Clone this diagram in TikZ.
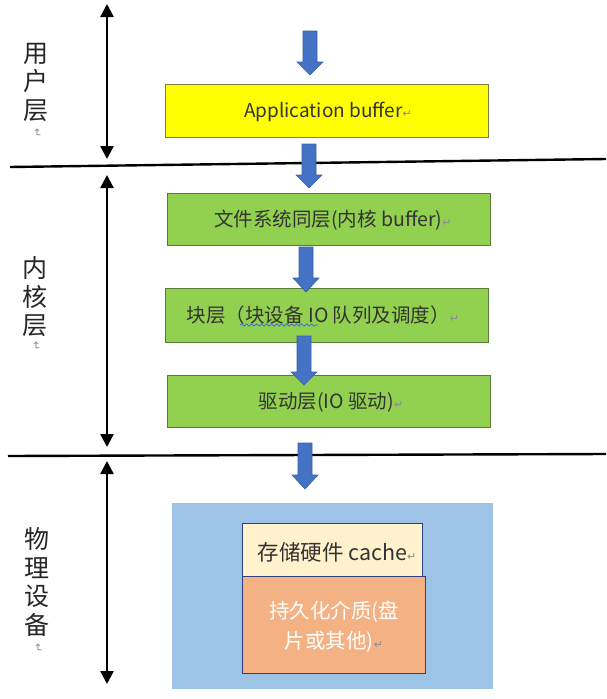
\documentclass[tikz,border=0pt]{standalone}
\usepackage{fontspec}
\setmainfont{Noto Sans CJK SC}
\newfontfamily\markfont{DejaVu Sans}
\usetikzlibrary{arrows.meta,decorations.pathmorphing}
\definecolor{appyellow}{HTML}{FFFF00}
\definecolor{appborder}{HTML}{7F7F3F}
\definecolor{kgreen}{HTML}{92D050}
\definecolor{kborder}{HTML}{5A7A3A}
\definecolor{devblue}{HTML}{9DC3E6}
\definecolor{cream}{HTML}{FFF2CC}
\definecolor{orangefill}{HTML}{F4B183}
\definecolor{darkblue}{HTML}{2F3F7F}
\definecolor{arrowblue}{HTML}{4472C4}
\definecolor{arrowborder}{HTML}{3A5FA8}
\definecolor{txt}{HTML}{333333}
\definecolor{markgray}{HTML}{8C8C8C}
\definecolor{wavy}{HTML}{3F6FD0}
\newcommand\pmark{{\markfont\fontsize{11}{11}\selectfont\textcolor{markgray}{↵}}}
\newcommand\blockarrow[4]{%
  \filldraw[arrowstyle] (#1-7,#2) -- (#1+7,#2) -- (#1+7,#3) -- (#1+13,#3) -- (#1,#4) -- (#1-13,#3) -- (#1-7,#3) -- cycle;}
\tikzset{
  layerbox/.style={draw=kborder, line width=1pt, fill=kgreen, minimum width=323pt, minimum height=52pt, inner sep=0pt},
  boxtext/.style={text=txt, inner sep=0pt, font=\fontsize{19.5}{22}\selectfont},
  arrowstyle/.style={fill=arrowblue, draw=arrowborder, line width=0.6pt},
  dbl/.style={line width=2.4pt, {Triangle[width=13pt,length=13pt]}-{Triangle[width=13pt,length=13pt]}},
  sep/.style={line width=2.4pt, black},
  vlabel/.style={align=center, text=black!85, font=\fontsize{25}{28.5}\selectfont, inner sep=0pt},
  vmark/.style={rotate=-90, inner sep=0pt},
}
\begin{document}
\begin{tikzpicture}[x=1pt,y=-1pt]
\useasboundingbox (0,0) rectangle (606,699);
% separators
\coordinate (s1l) at (10,167); \coordinate (s1r) at (606,159);
\coordinate (s2l) at (8,456); \coordinate (s2r) at (606,454);
\draw[sep] (s1l) -- (s1r);
\draw[sep] (s2l) -- (s2r);
% double arrows
\coordinate (a1t) at (107,4);   \coordinate (a1b) at (107,159);
\coordinate (a2t) at (107,175); \coordinate (a2b) at (107,447);
\coordinate (a3t) at (107,461); \coordinate (a3b) at (107,684);
\draw[dbl] (a1t) -- (a1b);
\draw[dbl] (a2t) -- (a2b);
\draw[dbl] (a3t) -- (a3b);
% vertical labels
\node[vlabel] (l1) at (36,82) {用\\户\\层};
\node[vmark] (m1) at (37,133) {\pmark};
\node[vlabel] (l2) at (35,297) {内\\核\\层};
\node[vmark] (m2) at (36,346) {\pmark};
\node[vlabel] (l3) at (37,582) {物\\理\\设\\备};
\node[vmark] (m3) at (38,648) {\pmark};
% boxes
\node[layerbox, draw=appborder, fill=appyellow, minimum height=53pt] (app) at (326.5,110.5) {};
\node[boxtext, font=\fontsize{19}{22}\selectfont] (appt) at (328,112) {Application buffer\pmark};
\node[layerbox] (fs) at (328.5,219) {};
\node[boxtext] (fst) at (333,220) {文件系统同层(内核 buffer)\pmark};
\node[layerbox, minimum height=54pt] (blk) at (326.5,315) {};
\node[boxtext] (blkt) at (323,315) {块层（块设备 IO 队列及调度）\pmark};
\draw[wavy, line width=0.8pt, decorate, decoration={snake, amplitude=1.2pt, segment length=5pt}] (240,325) -- (318,325);
\node[layerbox] (drv) at (329,401) {};
\node[boxtext] (drvt) at (331,402) {驱动层(IO 驱动)\pmark};
% physical device
\node[fill=devblue, minimum width=321pt, minimum height=186pt, inner sep=0pt] (dev) at (332.5,596) {};
\node[draw=darkblue, line width=1pt, fill=cream, minimum width=180pt, minimum height=53pt, inner sep=0pt] (cache) at (332,549.5) {};
\node[boxtext, font=\fontsize{21.5}{24}\selectfont] (cachet) at (337,552) {存储硬件 cache\pmark};
\node[draw=darkblue, line width=1pt, fill=orangefill, minimum width=183pt, minimum height=97pt, inner sep=0pt] (media) at (333.5,624.5) {};
\node[text=white, align=center, inner sep=0pt, font=\fontsize{20.5}{30}\selectfont] (mediat) at (334,627) {持久化介质(盘\\片或其他)\pmark};
% block arrows
\blockarrow{310}{31}{62}{75}
\blockarrow{309}{144}{175}{188}
\blockarrow{306}{247}{278}{292}
\blockarrow{304}{336}{372}{385}
\blockarrow{305}{443}{475}{489}
\end{tikzpicture}
\end{document}
